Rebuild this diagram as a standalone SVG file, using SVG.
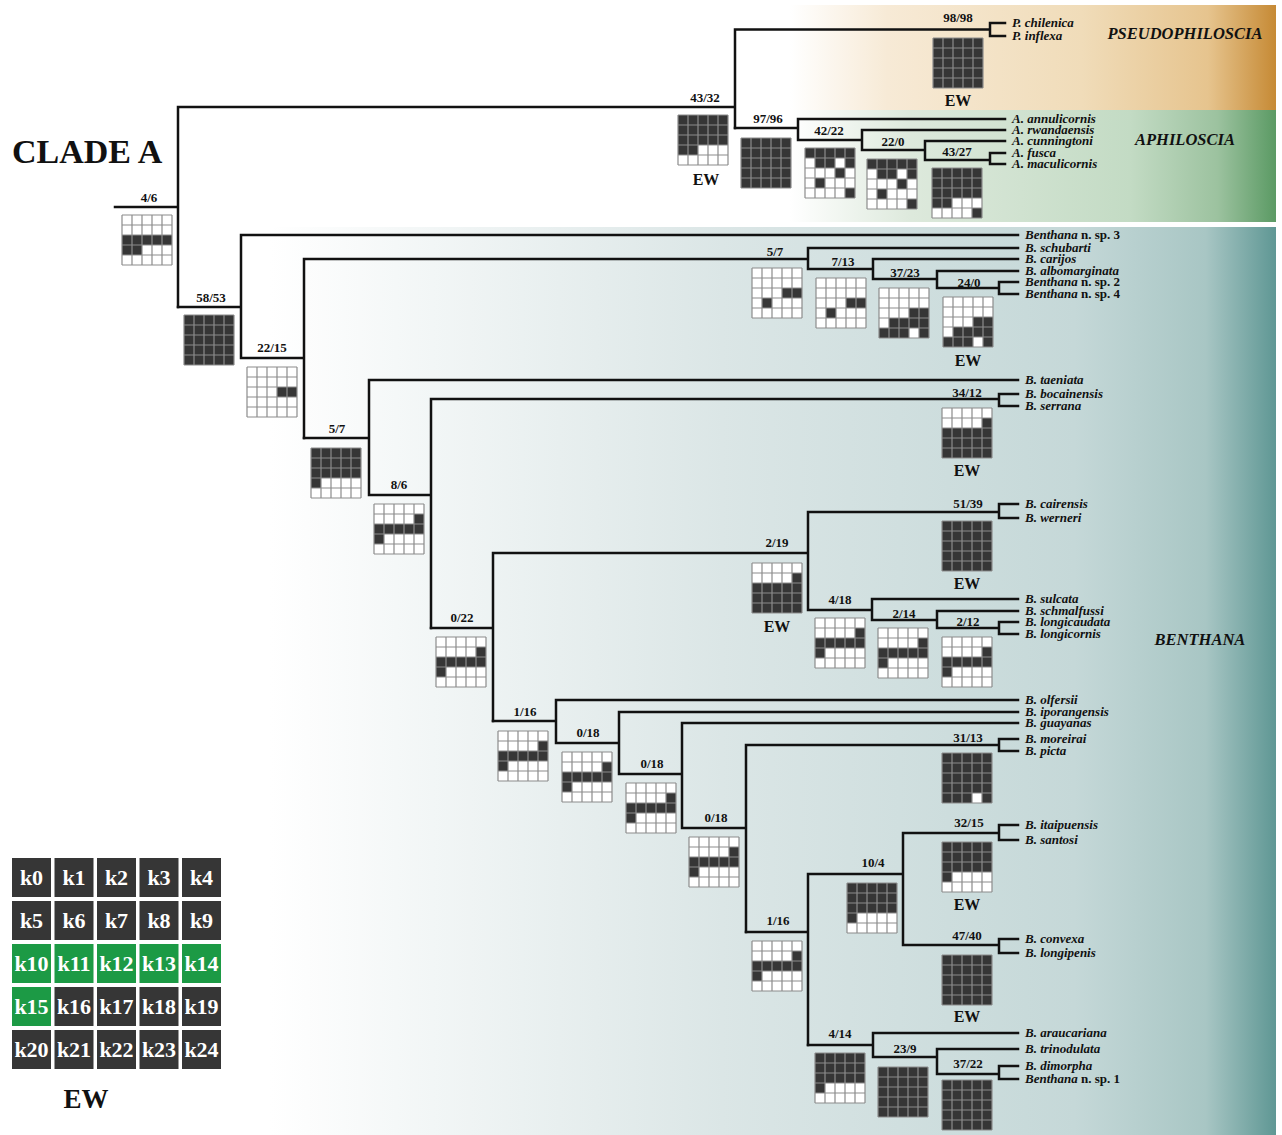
<svg xmlns="http://www.w3.org/2000/svg" width="1282" height="1135" viewBox="0 0 1282 1135">
<style>
.t{font-family:"Liberation Serif","Times New Roman",serif;font-weight:bold;fill:#111}
.tx{font-style:italic;font-size:13px}
.n{font-size:13px;text-anchor:middle}
.ew{font-size:16px;text-anchor:middle}
.gn{font-size:16.5px;font-style:italic;text-anchor:middle}
.br{stroke:#111;stroke-width:2.5;fill:none;stroke-linecap:square}
.f{fill:#363636}
.w{fill:#fff}
.gl{stroke:#8c8c8c;stroke-width:1.2;fill:none}
.lk{fill:#363636}
.lg{fill:#1c9a45}
.lt{font-family:"Liberation Serif","Times New Roman",serif;font-weight:bold;font-size:22px;fill:#fff;text-anchor:middle}
</style>
<defs>
<linearGradient id="gP" x1="0" y1="0" x2="1" y2="0">
<stop offset="0" stop-color="#ffffff"/><stop offset="0.2" stop-color="#f7ead6"/><stop offset="0.6" stop-color="#f0dcb9"/><stop offset="0.86" stop-color="#e6c48e"/><stop offset="1" stop-color="#c68a35"/>
</linearGradient>
<linearGradient id="gA" x1="0" y1="0" x2="1" y2="0">
<stop offset="0" stop-color="#ffffff"/><stop offset="0.25" stop-color="#dde9dc"/><stop offset="0.7" stop-color="#c3dbc4"/><stop offset="0.88" stop-color="#9cc29f"/><stop offset="1" stop-color="#5b9a64"/>
</linearGradient>
<linearGradient id="gB" x1="0" y1="0" x2="1" y2="0">
<stop offset="0" stop-color="#ffffff"/><stop offset="0.45" stop-color="#dbe6e6"/><stop offset="0.8" stop-color="#c5d8d8"/><stop offset="0.93" stop-color="#a8c6c4"/><stop offset="1" stop-color="#5f9794"/>
</linearGradient>
<path id="gl" class="gl" d="M0 0H50M0 10H50M0 20H50M0 30H50M0 40H50M0 50H50M0 0V50M10 0V50M20 0V50M30 0V50M40 0V50M50 0V50"/>
<g id="pFull"><rect class="f" width="50" height="50"/><use href="#gl"/></g>
<g id="pStd"><rect class="w" width="50" height="50"/><rect class="f" x="40" y="10" width="10" height="10"/><rect class="f" x="0" y="20" width="50" height="10"/><rect class="f" x="0" y="30" width="10" height="10"/><use href="#gl"/></g>
<g id="pTop3"><rect class="w" width="50" height="50"/><rect class="f" x="0" y="0" width="50" height="30"/><rect class="f" x="0" y="30" width="10" height="10"/><use href="#gl"/></g>
<g id="p4332"><rect class="w" width="50" height="50"/><rect class="f" x="0" y="0" width="50" height="30"/><rect class="f" x="0" y="30" width="20" height="10"/><use href="#gl"/></g>
<g id="p4327"><rect class="w" width="50" height="50"/><rect class="f" x="0" y="0" width="50" height="30"/><rect class="f" x="0" y="30" width="20" height="10"/><rect class="f" x="40" y="40" width="10" height="10"/><use href="#gl"/></g>
<g id="pBot3"><rect class="w" width="50" height="50"/><rect class="f" x="40" y="10" width="10" height="10"/><rect class="f" x="0" y="20" width="50" height="30"/><use href="#gl"/></g>
<g id="p3113"><rect class="f" width="50" height="50"/><rect class="w" x="30" y="40" width="10" height="10"/><use href="#gl"/></g>
<g id="p46"><rect class="w" width="50" height="50"/><rect class="f" x="0" y="20" width="50" height="10"/><rect class="f" x="0" y="30" width="20" height="10"/><use href="#gl"/></g>
<g id="p2215"><rect class="w" width="50" height="50"/><rect class="f" x="30" y="20" width="20" height="10"/><use href="#gl"/></g>
<g id="p57"><rect class="w" width="50" height="50"/><rect class="f" x="30" y="20" width="20" height="10"/><rect class="f" x="10" y="30" width="10" height="10"/><use href="#gl"/></g>
<g id="p3723"><rect class="w" width="50" height="50"/><rect class="f" x="30" y="20" width="20" height="10"/><rect class="f" x="10" y="30" width="40" height="10"/><rect class="f" x="0" y="40" width="30" height="10"/><rect class="f" x="40" y="40" width="10" height="10"/><use href="#gl"/></g>
<g id="p4222"><rect class="w" width="50" height="50"/><rect class="f" x="0" y="0" width="50" height="10"/><rect class="f" x="10" y="10" width="20" height="10"/><rect class="f" x="40" y="10" width="10" height="10"/><rect class="f" x="30" y="20" width="10" height="10"/><rect class="f" x="10" y="30" width="10" height="10"/><rect class="f" x="40" y="40" width="10" height="10"/><use href="#gl"/></g>
</defs>

<g id="background">
<rect x="790" y="5" width="486" height="105" fill="url(#gP)"/>
<rect x="790" y="110" width="486" height="112" fill="url(#gA)"/>
<rect x="270" y="227" width="1006" height="908" fill="url(#gB)"/>
</g>

<text class="t" x="12" y="163" font-size="34">CLADE A</text>

<g id="genera">
<text class="t gn" x="1185" y="39">PSEUDOPHILOSCIA</text>
<text class="t gn" x="1185" y="145">APHILOSCIA</text>
<text class="t gn" x="1200" y="645">BENTHANA</text>
</g>

<g id="connectors" class="br">
<path d="M115 207H178M178 107V307M178 107H735M735 29.5V128M735 29.5H990M990 23V36M990 23H1005M990 36H1005"/>
<path d="M735 128H798M798 119V140M798 119H1005M798 140H862M862 130V150M862 130H1005M862 150H925M925 141V160M925 141H1005M925 160H990M990 153V164M990 153H1005M990 164H1005"/>
<path d="M178 307H241M241 235V358M241 235H1018M241 358H304M304 259V438M304 259H808M808 248V269M808 248H1018M808 269H873M873 259V279M873 259H1018M873 279H937M937 271V288M937 271H1018M937 288H999M999 282V294M999 282H1018M999 294H1018"/>
<path d="M304 438H369M369 380V495M369 380H1018M369 495H431M431 399V628M431 399H999M999 394V406M999 394H1018M999 406H1018"/>
<path d="M431 628H493M493 553V721M493 553H808M808 512V610M808 512H999M999 504V518M999 504H1018M999 518H1018M808 610H872M872 599V620M872 599H1018M872 620H937M937 611V628M937 611H1018M937 628H999M999 622V634M999 622H1018M999 634H1018"/>
<path d="M493 721H556M556 700V743M556 700H1018M556 743H619M619 712V774M619 712H1018M619 774H682M682 723V828M682 723H1018M682 828H746M746 745V932M746 745H999M999 739V751M999 739H1018M999 751H1018"/>
<path d="M746 932H808M808 874V1045M808 874H903M903 833V945M903 833H999M999 825V840M999 825H1018M999 840H1018M903 945H999M999 939V953M999 939H1018M999 953H1018"/>
<path d="M808 1045H873M873 1033V1057M873 1033H1018M873 1057H937M937 1049V1074M937 1049H1018M937 1074H999M999 1066V1079M999 1066H1018M999 1079H1018"/>
</g>

<g id="n-4-6"><text class="t n" x="149" y="202">4/6</text><use href="#p46" x="122" y="215"/></g>
<g id="n-43-32"><text class="t n" x="705" y="102">43/32</text><use href="#p4332" x="678" y="115"/><text class="t ew" x="706" y="185">EW</text></g>
<g id="n-98-98"><text class="t n" x="958" y="22">98/98</text><use href="#pFull" x="933" y="38"/><text class="t ew" x="958" y="106">EW</text></g>
<g id="n-97-96"><text class="t n" x="768" y="123">97/96</text><use href="#pFull" x="741" y="138"/></g>
<g id="n-42-22"><text class="t n" x="829" y="135">42/22</text><use href="#p4222" x="805" y="148"/></g>
<g id="n-22-0"><text class="t n" x="893" y="146">22/0</text><use href="#p4222" x="867" y="159"/></g>
<g id="n-43-27"><text class="t n" x="957" y="156">43/27</text><use href="#p4327" x="932" y="168"/></g>

<g id="n-58-53"><text class="t n" x="211" y="302">58/53</text><use href="#pFull" x="184" y="315"/></g>
<g id="n-22-15"><text class="t n" x="272" y="352">22/15</text><use href="#p2215" x="247" y="367"/></g>
<g id="n-5-7a"><text class="t n" x="775" y="256">5/7</text><use href="#p57" x="752" y="268"/></g>
<g id="n-7-13"><text class="t n" x="843" y="266">7/13</text><use href="#p57" x="816" y="278"/></g>
<g id="n-37-23"><text class="t n" x="905" y="277">37/23</text><use href="#p3723" x="879" y="288"/></g>
<g id="n-24-0"><text class="t n" x="969" y="287">24/0</text><use href="#p3723" x="943" y="297"/><text class="t ew" x="968" y="366">EW</text></g>
<g id="n-5-7b"><text class="t n" x="337" y="433">5/7</text><use href="#pTop3" x="311" y="448"/></g>
<g id="n-8-6"><text class="t n" x="399" y="489">8/6</text><use href="#pStd" x="374" y="504"/></g>
<g id="n-34-12"><text class="t n" x="967" y="397">34/12</text><use href="#pBot3" x="942" y="408"/><text class="t ew" x="967" y="476">EW</text></g>
<g id="n-0-22"><text class="t n" x="462" y="622">0/22</text><use href="#pStd" x="436" y="637"/></g>
<g id="n-2-19"><text class="t n" x="777" y="547">2/19</text><use href="#pBot3" x="752" y="563"/><text class="t ew" x="777" y="632">EW</text></g>
<g id="n-51-39"><text class="t n" x="968" y="508">51/39</text><use href="#pFull" x="942" y="521"/><text class="t ew" x="967" y="589">EW</text></g>
<g id="n-4-18"><text class="t n" x="840" y="604">4/18</text><use href="#pStd" x="815" y="618"/></g>
<g id="n-2-14"><text class="t n" x="904" y="618">2/14</text><use href="#pStd" x="878" y="628"/></g>
<g id="n-2-12"><text class="t n" x="968" y="626">2/12</text><use href="#pStd" x="942" y="637"/></g>
<g id="n-1-16a"><text class="t n" x="525" y="716">1/16</text><use href="#pStd" x="498" y="731"/></g>
<g id="n-0-18a"><text class="t n" x="588" y="737">0/18</text><use href="#pStd" x="562" y="752"/></g>
<g id="n-0-18b"><text class="t n" x="652" y="768">0/18</text><use href="#pStd" x="626" y="783"/></g>
<g id="n-0-18c"><text class="t n" x="716" y="822">0/18</text><use href="#pStd" x="689" y="837"/></g>
<g id="n-31-13"><text class="t n" x="968" y="742">31/13</text><use href="#p3113" x="942" y="753"/></g>
<g id="n-1-16b"><text class="t n" x="778" y="925">1/16</text><use href="#pStd" x="752" y="941"/></g>
<g id="n-10-4"><text class="t n" x="873" y="867">10/4</text><use href="#pTop3" x="847" y="883"/></g>
<g id="n-32-15"><text class="t n" x="969" y="827">32/15</text><use href="#pTop3" x="942" y="842"/><text class="t ew" x="967" y="910">EW</text></g>
<g id="n-47-40"><text class="t n" x="967" y="940">47/40</text><use href="#pFull" x="942" y="955"/><text class="t ew" x="967" y="1022">EW</text></g>
<g id="n-4-14"><text class="t n" x="840" y="1038">4/14</text><use href="#pTop3" x="815" y="1053"/></g>
<g id="n-23-9"><text class="t n" x="905" y="1053">23/9</text><use href="#pFull" x="878" y="1067"/></g>
<g id="n-37-22"><text class="t n" x="968" y="1068">37/22</text><use href="#pFull" x="942" y="1080"/></g>

<g id="taxa" class="t tx">
<text x="1012" y="27">P. chilenica</text>
<text x="1012" y="40">P. inflexa</text>
<text x="1012" y="123">A. annulicornis</text>
<text x="1012" y="134">A. rwandaensis</text>
<text x="1012" y="145">A. cunningtoni</text>
<text x="1012" y="157">A. fusca</text>
<text x="1012" y="168">A. maculicornis</text>
<text x="1025" y="239">Benthana<tspan font-style="normal"> n. sp. 3</tspan></text>
<text x="1025" y="252">B. schubarti</text>
<text x="1025" y="263">B. carijos</text>
<text x="1025" y="275">B. albomarginata</text>
<text x="1025" y="286">Benthana<tspan font-style="normal"> n. sp. 2</tspan></text>
<text x="1025" y="298">Benthana<tspan font-style="normal"> n. sp. 4</tspan></text>
<text x="1025" y="384">B. taeniata</text>
<text x="1025" y="398">B. bocainensis</text>
<text x="1025" y="410">B. serrana</text>
<text x="1025" y="508">B. cairensis</text>
<text x="1025" y="522">B. werneri</text>
<text x="1025" y="603">B. sulcata</text>
<text x="1025" y="615">B. schmalfussi</text>
<text x="1025" y="626">B. longicaudata</text>
<text x="1025" y="638">B. longicornis</text>
<text x="1025" y="704">B. olfersii</text>
<text x="1025" y="716">B. iporangensis</text>
<text x="1025" y="727">B. guayanas</text>
<text x="1025" y="743">B. moreirai</text>
<text x="1025" y="755">B. picta</text>
<text x="1025" y="829">B. itaipuensis</text>
<text x="1025" y="844">B. santosi</text>
<text x="1025" y="943">B. convexa</text>
<text x="1025" y="957">B. longipenis</text>
<text x="1025" y="1037">B. araucariana</text>
<text x="1025" y="1053">B. trinodulata</text>
<text x="1025" y="1070">B. dimorpha</text>
<text x="1025" y="1083">Benthana<tspan font-style="normal"> n. sp. 1</tspan></text>
</g>

<g id="legend">
<rect class="lk" x="12" y="858" width="39" height="39"/><rect class="lk" x="54.5" y="858" width="39" height="39"/><rect class="lk" x="97" y="858" width="39" height="39"/><rect class="lk" x="139.5" y="858" width="39" height="39"/><rect class="lk" x="182" y="858" width="39" height="39"/>
<rect class="lk" x="12" y="901" width="39" height="39"/><rect class="lk" x="54.5" y="901" width="39" height="39"/><rect class="lk" x="97" y="901" width="39" height="39"/><rect class="lk" x="139.5" y="901" width="39" height="39"/><rect class="lk" x="182" y="901" width="39" height="39"/>
<rect class="lg" x="12" y="944" width="39" height="39"/><rect class="lg" x="54.5" y="944" width="39" height="39"/><rect class="lg" x="97" y="944" width="39" height="39"/><rect class="lg" x="139.5" y="944" width="39" height="39"/><rect class="lg" x="182" y="944" width="39" height="39"/>
<rect class="lg" x="12" y="987" width="39" height="39"/><rect class="lk" x="54.5" y="987" width="39" height="39"/><rect class="lk" x="97" y="987" width="39" height="39"/><rect class="lk" x="139.5" y="987" width="39" height="39"/><rect class="lk" x="182" y="987" width="39" height="39"/>
<rect class="lk" x="12" y="1030" width="39" height="39"/><rect class="lk" x="54.5" y="1030" width="39" height="39"/><rect class="lk" x="97" y="1030" width="39" height="39"/><rect class="lk" x="139.5" y="1030" width="39" height="39"/><rect class="lk" x="182" y="1030" width="39" height="39"/>
<text class="lt" x="31.5" y="885">k0</text><text class="lt" x="74" y="885">k1</text><text class="lt" x="116.5" y="885">k2</text><text class="lt" x="159" y="885">k3</text><text class="lt" x="201.5" y="885">k4</text>
<text class="lt" x="31.5" y="928">k5</text><text class="lt" x="74" y="928">k6</text><text class="lt" x="116.5" y="928">k7</text><text class="lt" x="159" y="928">k8</text><text class="lt" x="201.5" y="928">k9</text>
<text class="lt" x="31.5" y="971">k10</text><text class="lt" x="74" y="971">k11</text><text class="lt" x="116.5" y="971">k12</text><text class="lt" x="159" y="971">k13</text><text class="lt" x="201.5" y="971">k14</text>
<text class="lt" x="31.5" y="1014">k15</text><text class="lt" x="74" y="1014">k16</text><text class="lt" x="116.5" y="1014">k17</text><text class="lt" x="159" y="1014">k18</text><text class="lt" x="201.5" y="1014">k19</text>
<text class="lt" x="31.5" y="1057">k20</text><text class="lt" x="74" y="1057">k21</text><text class="lt" x="116.5" y="1057">k22</text><text class="lt" x="159" y="1057">k23</text><text class="lt" x="201.5" y="1057">k24</text>
<text class="t" x="86" y="1108" font-size="27" text-anchor="middle">EW</text>
</g>
</svg>
